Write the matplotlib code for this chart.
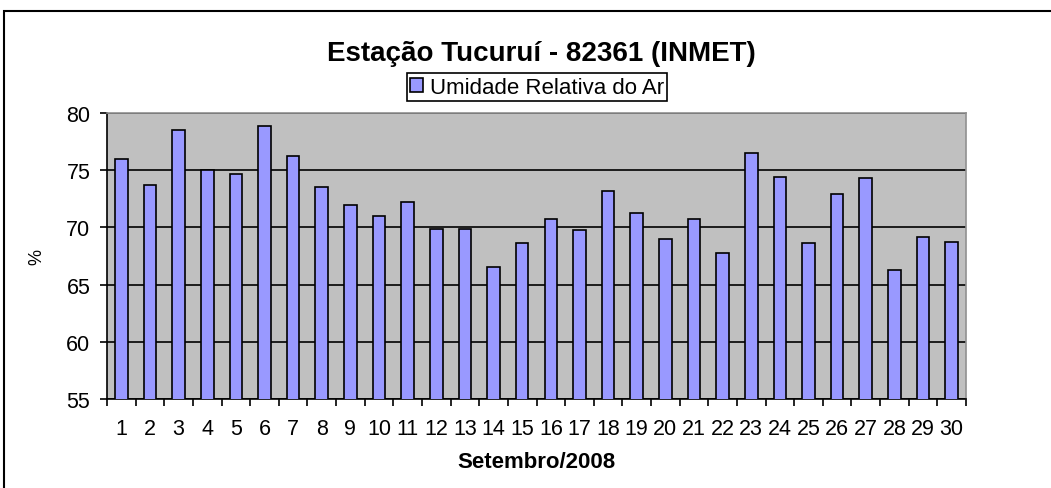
import matplotlib.pyplot as plt
from matplotlib.patches import Rectangle
import numpy as np

# Umidade relativa do ar - setembro/2008 (INMET, Tucuruí)
dias = list(range(1, 31))
umidade = [76.0, 73.7, 78.5, 75.0, 74.7, 78.9, 76.2, 73.5, 72.0, 71.0,
           72.2, 69.9, 69.9, 66.5, 68.6, 70.7, 69.8, 73.2, 71.3, 69.0,
           70.7, 67.8, 76.5, 74.4, 68.6, 72.9, 74.3, 66.3, 69.2, 68.7]
yticks = [55, 60, 65, 70, 75, 80]

plt.rcParams['font.family'] = ['Liberation Sans', 'DejaVu Sans']

fig = plt.figure(figsize=(10.51, 4.89), dpi=100)
ax = fig.add_axes([107/1051, 1 - 400/489, (966 - 107)/1051, (400 - 114)/489])

ax.set_facecolor('#C0C0C0')
ax.set_axisbelow(True)
ax.yaxis.grid(True, color='black', linewidth=1.2)

barras = ax.bar(dias, umidade, width=0.44, color='#9999FF', edgecolor='black',
                linewidth=1.2, label='Umidade Relativa do Ar', zorder=3)

ax.set_xlim(0.5, 30.5)
ax.set_ylim(55, 80)
ax.set_yticks(yticks)
ax.tick_params(axis='y', labelsize=15.5, length=5, width=1.2, direction='out', pad=7)

# marcas entre as categorias, rótulos no centro
ax.set_xticks(np.arange(0.5, 31, 1))
ax.set_xticklabels([])
ax.tick_params(axis='x', which='major', length=5, width=1.2, direction='out')
ax.set_xticks(dias, minor=True)
ax.set_xticklabels([str(d) for d in dias], minor=True)
ax.tick_params(axis='x', which='minor', length=0, labelsize=15.5, pad=14)

for lado in ['left', 'bottom']:
    ax.spines[lado].set_color('black')
    ax.spines[lado].set_linewidth(1.2)
for lado in ['top', 'right']:
    ax.spines[lado].set_color('#909090')
    ax.spines[lado].set_linewidth(1.2)

ax.set_ylabel('%', fontsize=13, labelpad=15)
ax.set_xlabel('Setembro/2008', fontsize=16, fontweight='bold', labelpad=8)

fig.text(541/1051, 1 - 61/489, 'Estação Tucuruí - 82361 (INMET)', ha='center', va='baseline',
         fontsize=20, fontweight='bold')

leg = fig.legend(loc='center', bbox_to_anchor=(537/1051, 1 - 88/489), fontsize=16,
                 frameon=True, fancybox=False, edgecolor='black', framealpha=1,
                 handlelength=0.6, handleheight=0.6, handletextpad=0.3,
                 borderpad=0.15, borderaxespad=0)
leg.get_frame().set_linewidth(1.2)

# moldura do gráfico
fig.patches.append(Rectangle((4/1051, -0.1), 1.2, 1 - 12/489 + 0.1, transform=fig.transFigure,
                             fill=False, edgecolor='black', linewidth=1.5, clip_on=False))

fig.savefig('out.png', dpi=100)
